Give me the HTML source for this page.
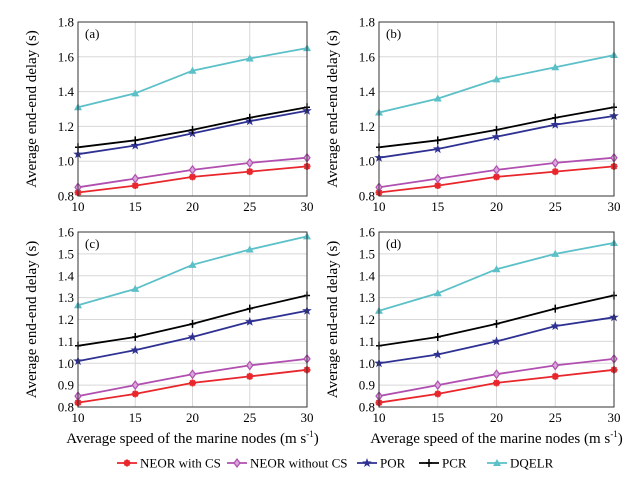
<!DOCTYPE html>
<html><head><meta charset="utf-8"><style>
body{margin:0;background:#fff;}
svg{display:block;font-family:"Liberation Serif",serif;}
</style></head><body>
<svg id="fig" width="639" height="479" viewBox="0 0 639 479"></svg>
<script>
const xCats=[10,15,20,25,30];
const seriesNames=["NEOR with CS","NEOR without CS","POR","PCR","DQELR"];
const seriesColors=["#e8262b","#b04fb0","#2e3192","#000000","#5bc0c8"];
const aNeorCS=[0.82,0.86,0.91,0.94,0.97];
const aNeorNo=[0.85,0.90,0.95,0.99,1.02];
const aPor=[1.04,1.09,1.16,1.23,1.29];
const aPcr=[1.08,1.12,1.18,1.25,1.31];
const aDq=[1.31,1.39,1.52,1.59,1.65];
const bNeorCS=[0.82,0.86,0.91,0.94,0.97];
const bNeorNo=[0.85,0.90,0.95,0.99,1.02];
const bPor=[1.02,1.07,1.14,1.21,1.26];
const bPcr=[1.08,1.12,1.18,1.25,1.31];
const bDq=[1.28,1.36,1.47,1.54,1.61];
const cNeorCS=[0.82,0.86,0.91,0.94,0.97];
const cNeorNo=[0.85,0.90,0.95,0.99,1.02];
const cPor=[1.01,1.06,1.12,1.19,1.24];
const cPcr=[1.08,1.12,1.18,1.25,1.31];
const cDq=[1.265,1.34,1.45,1.52,1.58];
const dNeorCS=[0.82,0.86,0.91,0.94,0.97];
const dNeorNo=[0.85,0.90,0.95,0.99,1.02];
const dPor=[1.00,1.04,1.10,1.17,1.21];
const dPcr=[1.08,1.12,1.18,1.25,1.31];
const dDq=[1.24,1.32,1.43,1.50,1.55];
const yTicksAB=["0.8","1.0","1.2","1.4","1.6","1.8"];
const yTicksCD=["0.8","0.9","1.0","1.1","1.2","1.3","1.4","1.5","1.6"];

const NS="http://www.w3.org/2000/svg";
const svg=document.getElementById('fig');
function mk(tag,attrs,parent){const e=document.createElementNS(NS,tag);for(const k in attrs)e.setAttribute(k,attrs[k]);(parent||svg).appendChild(e);return e;}

function marker(g,shape,x,y,color){
  let m;
  if(shape===0){m=mk('path',{d:`M${x-3.5},${y}H${x+3.5}M${x},${y-3.5}V${y+3.5}M${x-2.5},${y-2.5}L${x+2.5},${y+2.5}M${x-2.5},${y+2.5}L${x+2.5},${y-2.5}`,stroke:color,'stroke-width':2},g);}
  else if(shape===1){m=mk('path',{d:`M${x},${y-4}L${x+3},${y}L${x},${y+4}L${x-3},${y}Z`,fill:'#d9a6d9',stroke:color,'stroke-width':1.2},g);}
  else if(shape===2){let p=[];for(let i=0;i<10;i++){const r=i%2?2:5;const a=-Math.PI/2+i*Math.PI/5;p.push((x+r*Math.cos(a)).toFixed(1)+','+(y+r*Math.sin(a)).toFixed(1));}m=mk('polygon',{points:p.join(' '),fill:color},g);}
  else if(shape===3){m=mk('path',{d:`M${x-3},${y}H${x+3}M${x},${y-4}V${y+4}`,stroke:color,'stroke-width':1.5},g);}
  else {m=mk('polygon',{points:`${x},${y-4} ${x+4},${y+3} ${x-4},${y+3}`,fill:color},g);}
  return m;
}

function panel(id,label,L,R,T,B,ymin,ymax,ticks,data,showX){
  const g=mk('g',{});
  
  
  const xs=v=>L+(v-10)/(30-10)*(R-L);
  const ys=v=>B-(v-ymin)/(ymax-ymin)*(B-T);
  ticks.forEach(t=>{const v=parseFloat(t);const y=ys(v);
    if(v>ymin&&v<ymax)mk('line',{x1:L,x2:R,y1:y,y2:y,stroke:'#d8d8d8','stroke-width':1},g);
    const tx=mk('text',{x:L-4,y:y+4.5,'text-anchor':'end','font-size':13},g);tx.textContent=t;
    
    });
  xCats.forEach(c=>{const x=xs(c);
    if(c>10&&c<30)mk('line',{x1:x,x2:x,y1:T,y2:B,stroke:'#d8d8d8','stroke-width':1},g);
    const tx=mk('text',{x:x,y:B+15,'text-anchor':'middle','font-size':13},g);tx.textContent=c;
    
    });
  data.forEach((vals,si)=>{
    const pts=vals.map((v,i)=>xs(xCats[i]).toFixed(1)+','+ys(v).toFixed(1)).join(' ');
    const pl=mk('polyline',{points:pts,fill:'none',stroke:seriesColors[si],'stroke-width':1.8},g);
    
    
    vals.forEach((v,i)=>marker(g,si,xs(xCats[i]),ys(v),seriesColors[si]));
  });
  const fr=mk('rect',{x:L,y:T,width:R-L,height:B-T,fill:'none',stroke:'#333','stroke-width':1},g);
  
  
  const lb=mk('text',{x:L+7,y:T+16,'font-size':13},g);lb.textContent='('+id+')';
  
  
  const yt=mk('text',{x:0,y:0,'font-size':15,'text-anchor':'middle',transform:`translate(${L-42},${(T+B)/2}) rotate(-90)`},g);
  yt.textContent='Average end-end delay (s)';
  
  
  if(showX){const xt=mk('text',{x:(L+R)/2,y:B+36,'font-size':15,'text-anchor':'middle'},g);
    xt.innerHTML='Average speed of the marine nodes (m s<tspan font-size="9" dy="-6">-1</tspan><tspan dy="6">)</tspan>';
    
    }
}
panel('a',0,78,307,22,196,0.8,1.8,yTicksAB,[aNeorCS,aNeorNo,aPor,aPcr,aDq],false);
panel('b',0,379,614,22,196,0.8,1.8,yTicksAB,[bNeorCS,bNeorNo,bPor,bPcr,bDq],false);
panel('c',0,78,307,232,407,0.8,1.6,yTicksCD,[cNeorCS,cNeorNo,cPor,cPcr,cDq],true);
panel('d',0,379,614,232,407,0.8,1.6,yTicksCD,[dNeorCS,dNeorNo,dPor,dPcr,dDq],true);

const legX=[117,227,357,419,487];
const lg=mk('g',{});


seriesNames.forEach((n,i)=>{
  const e=mk('g',{},lg);
  
  
  mk('line',{x1:legX[i],x2:legX[i]+20,y1:463,y2:463,stroke:seriesColors[i],'stroke-width':1.8},e);
  marker(e,i,legX[i]+10,463,seriesColors[i]);
  const t=mk('text',{x:legX[i]+23,y:467.5,'font-size':13},e);t.textContent=n;
});
</script>
</body></html>
